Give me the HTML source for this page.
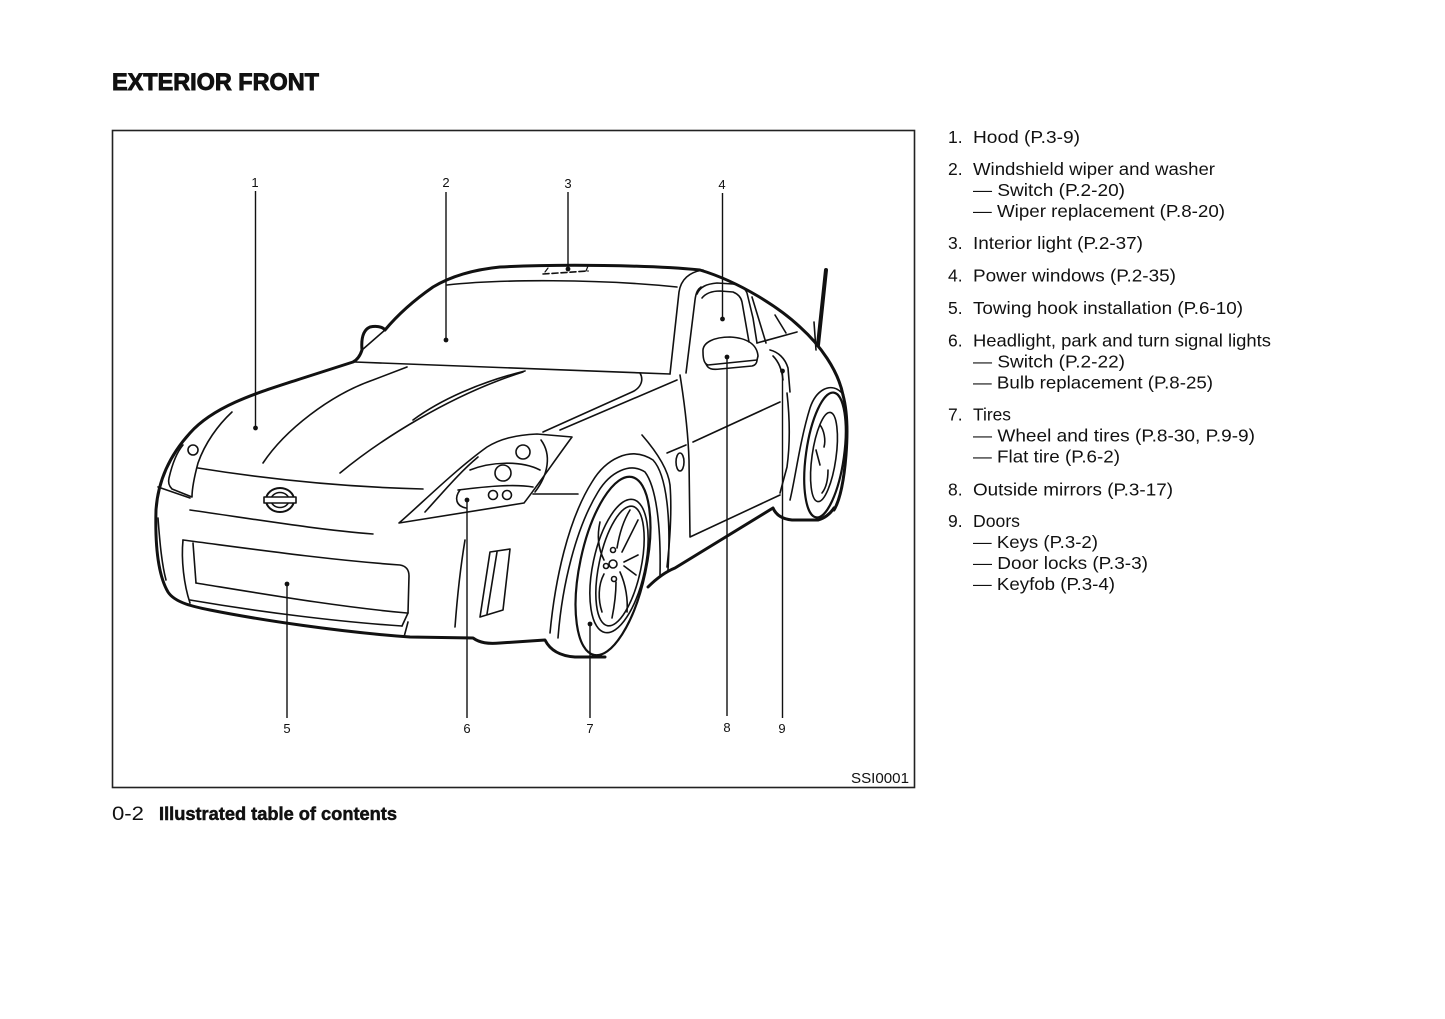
<!DOCTYPE html>
<html>
<head>
<meta charset="utf-8">
<style>
html,body{margin:0;padding:0;background:#fff;}
body{width:1445px;height:1019px;overflow:hidden;position:relative;}
svg{position:absolute;left:0;top:0;}
text{font-family:"Liberation Sans",Arial,sans-serif;fill:#111;}
</style>
</head>
<body>
<svg width="1445" height="1019" viewBox="0 0 1445 1019" xmlns="http://www.w3.org/2000/svg">
  <!-- Title -->
  <text x="112" y="90" font-size="24" font-weight="bold" stroke="#111" stroke-width="0.9" textLength="207" lengthAdjust="spacingAndGlyphs">EXTERIOR FRONT</text>

  <!-- Frame -->
  <rect x="112.5" y="130.5" width="802" height="657" fill="none" stroke="#222" stroke-width="1.6"/>

  <!-- Car drawing -->
  <g fill="none" stroke="#111" stroke-linecap="round" stroke-linejoin="round">
    <path stroke-width="3" d="M843,395 C838,370 820,345 800,327 C780,308 740,282 700,270 C650,265 560,264 500,267 C470,270 448,278 433,287 C410,303 395,318 385,330 C382,326 375,326 370,327 C363,330 361,338 362,350 C360,356 357,360 353,362 L300,379 C260,392 215,405 190,433 C170,455 158,480 156,510 C155,545 158,575 168,592 C175,603 195,607 210,610 C260,620 340,632 410,637 L473,638 C480,643 488,644 500,643 L545,640 C550,650 560,656 575,657 L605,657"/>
    <path stroke-width="3" d="M648,587 C655,580 665,572 675,568 L773,508 C776,515 782,519 792,520 L818,520 C825,518 830,514 834,508"/>
    <path stroke-width="3" d="M843,395 C847,410 848,430 846,455 C844,480 840,500 834,510"/>
    <path stroke-width="4" d="M826,270 L818,345"/>
    <path stroke-width="1.6" d="M814,322 L816,350"/>

    <g stroke-width="1.6">
      <path d="M362,350 L385,330"/>
      <path d="M355,362 L670,374"/>
      <path d="M447,285 C500,279 600,279 677,287"/>
      <path stroke-dasharray="6 3" d="M543,274 L588,271"/>
      <path stroke-width="1.2" d="M545,272 L548,268 M586,271 L588,266"/>
      <path d="M640,373 C644,380 641,388 632,392 L543,432"/>
      <path d="M677,380 L560,430"/>
      <path d="M670,374 L679,292 C681,279 690,272 703,270"/>
      <path d="M686,373 L695,300 C696,292 698,289 701,287"/>
      <path d="M697,294 C700,287 706,284 717,283 L733,284 C740,285 745,288 747,293 L753,318 L757,343"/>
      <path d="M702,298 C706,293 712,291 720,291 L733,292 C738,294 741,297 742,302 L749,342"/>
      <path d="M752,297 L766,343"/>
      <path d="M775,315 L786,333"/>
      <path d="M757,343 L797,332"/>
      <path d="M703,352 C702,342 715,337 730,337 C748,338 757,345 758,356 L757,360 L708,365 C704,364 703,358 703,352 Z"/>
      <path d="M706,364 C708,369 712,370 720,369 L752,366 C756,365 757,362 757,360"/>
      <path d="M680,375 C684,400 688,430 689,460 L690,537 L780,495"/>
      <path d="M787,393 C790,420 790,445 787,467 L780,493"/>
      <path d="M693,442 L780,402"/>
      <path d="M667,453 L686,445"/>
      <ellipse cx="680" cy="462" rx="4" ry="9"/>
      <path d="M770,350 C778,352 785,358 788,368 L790,392"/>
      <path d="M773,356 C779,362 782,370 783,380"/>
      <path d="M642,435 C655,450 668,468 670,485 C672,510 670,540 667,567"/>
      <path d="M550,633 C555,580 568,520 592,482 C605,460 630,445 653,460 C667,475 671,520 668,570"/>
      <path d="M558,638 C562,585 576,528 598,492 C610,472 630,462 645,472 C657,488 661,530 660,575"/>
      <path d="M790,500 C795,480 800,440 810,408 C816,390 830,382 841,392"/>
      <path d="M263,463 C285,430 330,395 373,380 L407,367"/>
      <path d="M340,473 C380,440 450,395 523,372"/>
      <path d="M413,420 C440,400 480,382 525,371"/>
      <path d="M198,468 C260,478 340,487 423,489"/>
      <path d="M232,412 C218,425 205,443 198,463 C194,478 192,490 192,497 L172,489 C169,486 168,482 169,478 C172,465 177,452 183,445"/>
      <circle cx="193" cy="450" r="5"/>
      <path d="M158,487 L190,498"/>
      <path d="M158,518 C160,545 162,565 166,580"/>
      <path d="M190,510 C260,520 320,530 373,534"/>
      <ellipse cx="280" cy="500" rx="14" ry="12" stroke-width="2"/>
      <ellipse cx="280" cy="500" rx="9" ry="7.5"/>
      <rect x="264" y="497" width="32" height="6" fill="#fff" stroke-width="1.6"/>
      <path d="M183,540 C260,550 330,560 400,565 C406,566 409,570 409,576 L408,613"/>
      <path d="M183,540 C181,560 184,585 190,603"/>
      <path d="M193,543 L196,583"/>
      <path d="M196,583 C270,595 340,607 407,613"/>
      <path d="M190,600 C260,612 340,622 402,626"/>
      <path d="M402,626 L408,613 M404,637 L408,622"/>
      <path d="M399,523 C420,505 455,470 487,447 C500,439 515,435 537,434 L572,437 C555,460 538,485 524,503 C470,512 430,518 399,523 Z"/>
      <path d="M425,512 C445,490 460,472 478,457"/>
      <path d="M470,470 C490,462 520,460 540,470"/>
      <path d="M458,490 C490,486 515,484 533,487"/>
      <path d="M460,490 C454,498 456,506 466,508"/>
      <path d="M541,440 C552,455 548,475 535,492"/>
      <circle cx="523" cy="452" r="7"/>
      <circle cx="503" cy="473" r="8"/>
      <circle cx="493" cy="495" r="4.5"/>
      <circle cx="507" cy="495" r="4.5"/>
      <path d="M533,494 L578,494"/>
      <path d="M465,540 C460,570 457,600 455,627"/>
      <path d="M490,552 L510,549 L503,610 L480,617 Z"/>
      <path d="M497,552 L487,614"/>
      <ellipse cx="613" cy="566" rx="33" ry="91" transform="rotate(12 613 566)" stroke-width="2.2"/>
      <ellipse cx="619" cy="566" rx="26" ry="68" transform="rotate(12 619 566)"/>
      <ellipse cx="620" cy="566" rx="21" ry="61" transform="rotate(12 620 566)"/>
      <circle cx="613" cy="564" r="4"/>
      <circle cx="613" cy="550" r="2.5"/>
      <circle cx="606" cy="566" r="2.5"/>
      <circle cx="614" cy="579" r="2.5"/>
      <path d="M617,548 C620,530 625,518 630,510 M622,552 C628,540 634,528 638,520"/>
      <path d="M620,572 C626,585 628,600 627,612 M616,582 C616,595 614,608 612,618"/>
      <path d="M604,560 C598,548 597,535 600,522 M604,574 C598,585 598,600 602,612"/>
      <path d="M624,562 L638,555 M624,566 L636,575"/>
      <ellipse cx="825" cy="455" rx="19" ry="63" transform="rotate(8 825 455)" stroke-width="2.2"/>
      <ellipse cx="824" cy="457" rx="12" ry="45" transform="rotate(8 824 457)"/>
      <path d="M820,425 C824,430 826,440 824,447 M828,470 C828,480 826,488 822,493 M816,450 L820,465"/>
    </g>
  </g>

  <!-- Leader lines -->
  <g stroke="#111" stroke-width="1.4" fill="none">
    <path d="M255.5,191 L255.5,428"/>
    <path d="M446,192 L446,340"/>
    <path d="M568,192 L568,269"/>
    <path d="M722.5,193 L722.5,319"/>
    <path d="M287,584 L287,718"/>
    <path d="M467,500 L467,718"/>
    <path d="M590,624 L590,718"/>
    <path d="M727,357 L727,716"/>
    <path d="M782.5,371 L782.5,718"/>
  </g>
  <g fill="#111">
    <circle cx="255.5" cy="428" r="2.4"/>
    <circle cx="446" cy="340" r="2.4"/>
    <circle cx="568" cy="269" r="2.4"/>
    <circle cx="722.5" cy="319" r="2.4"/>
    <circle cx="287" cy="584" r="2.4"/>
    <circle cx="467" cy="500" r="2.4"/>
    <circle cx="590" cy="624" r="2.4"/>
    <circle cx="727" cy="357" r="2.4"/>
    <circle cx="782.5" cy="371" r="2.4"/>
  </g>

  <!-- Diagram labels -->
  <g font-size="13" text-anchor="middle">
    <text x="255" y="187">1</text>
    <text x="446" y="187">2</text>
    <text x="568" y="188">3</text>
    <text x="722" y="189">4</text>
    <text x="287" y="733">5</text>
    <text x="467" y="733">6</text>
    <text x="590" y="733">7</text>
    <text x="727" y="732">8</text>
    <text x="782" y="733">9</text>
  </g>
  <text x="851" y="783" font-size="15" textLength="58" lengthAdjust="spacingAndGlyphs">SSI0001</text>

  <!-- Footer -->
  <text x="112" y="820" font-size="19" textLength="32" lengthAdjust="spacingAndGlyphs">0-2</text>
  <text x="159" y="820" font-size="18" font-weight="bold" stroke="#111" stroke-width="0.5" textLength="238" lengthAdjust="spacingAndGlyphs">Illustrated table of contents</text>

  <!-- List -->
  <g font-size="17.5">
    <text x="948" y="143">1.</text>
    <text x="973" y="143" textLength="107" lengthAdjust="spacingAndGlyphs">Hood (P.3-9)</text>

    <text x="948" y="175">2.</text>
    <text x="973" y="175" textLength="242" lengthAdjust="spacingAndGlyphs">Windshield wiper and washer</text>
    <text x="973" y="196" textLength="152" lengthAdjust="spacingAndGlyphs">— Switch (P.2-20)</text>
    <text x="973" y="217" textLength="252" lengthAdjust="spacingAndGlyphs">— Wiper replacement (P.8-20)</text>

    <text x="948" y="249">3.</text>
    <text x="973" y="249" textLength="170" lengthAdjust="spacingAndGlyphs">Interior light (P.2-37)</text>

    <text x="948" y="281.5">4.</text>
    <text x="973" y="281.5" textLength="203" lengthAdjust="spacingAndGlyphs">Power windows (P.2-35)</text>

    <text x="948" y="314">5.</text>
    <text x="973" y="314" textLength="270" lengthAdjust="spacingAndGlyphs">Towing hook installation (P.6-10)</text>

    <text x="948" y="346.5">6.</text>
    <text x="973" y="346.5" textLength="298" lengthAdjust="spacingAndGlyphs">Headlight, park and turn signal lights</text>
    <text x="973" y="367.5" textLength="152" lengthAdjust="spacingAndGlyphs">— Switch (P.2-22)</text>
    <text x="973" y="388.5" textLength="240" lengthAdjust="spacingAndGlyphs">— Bulb replacement (P.8-25)</text>

    <text x="948" y="420.5">7.</text>
    <text x="973" y="420.5" textLength="38" lengthAdjust="spacingAndGlyphs">Tires</text>
    <text x="973" y="441.5" textLength="282" lengthAdjust="spacingAndGlyphs">— Wheel and tires (P.8-30, P.9-9)</text>
    <text x="973" y="462.5" textLength="147" lengthAdjust="spacingAndGlyphs">— Flat tire (P.6-2)</text>

    <text x="948" y="495.5">8.</text>
    <text x="973" y="495.5" textLength="200" lengthAdjust="spacingAndGlyphs">Outside mirrors (P.3-17)</text>

    <text x="948" y="527">9.</text>
    <text x="973" y="527" textLength="47" lengthAdjust="spacingAndGlyphs">Doors</text>
    <text x="973" y="548" textLength="125" lengthAdjust="spacingAndGlyphs">— Keys (P.3-2)</text>
    <text x="973" y="569" textLength="175" lengthAdjust="spacingAndGlyphs">— Door locks (P.3-3)</text>
    <text x="973" y="590" textLength="142" lengthAdjust="spacingAndGlyphs">— Keyfob (P.3-4)</text>
  </g>
</svg>
</body>
</html>
